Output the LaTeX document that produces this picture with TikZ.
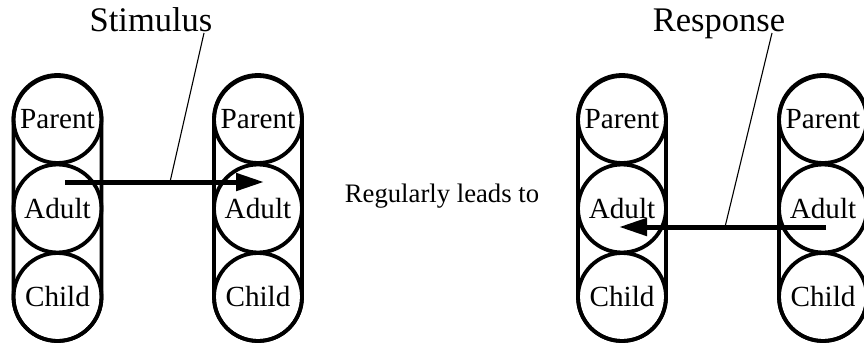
\documentclass[tikz,border=0pt]{standalone}
\usepackage{fontspec}
\setmainfont{Liberation Serif}
\usetikzlibrary{arrows.meta}
\begin{document}
\begin{tikzpicture}[x=1pt,y=-1pt,
  ego/.style={circle,draw,line width=3.8pt,minimum size=88pt,inner sep=0pt,font=\fontsize{29.2}{32}\selectfont},
  stackbox/.style={draw,line width=3.8pt,rounded corners=44pt},
  caption/.style={font=\fontsize{34.5}{38}\selectfont,anchor=base,inner sep=0pt},
  midtext/.style={font=\fontsize{26.7}{30}\selectfont,anchor=base,inner sep=0pt},
  bigarrow/.style={line width=5pt,-{Triangle[length=28pt,width=17pt]}},
  leader/.style={line width=1.1pt}]
\useasboundingbox (0,0) rectangle (864,345);
% stacks
\foreach \x/\n in {57.5/1,258/2,622/3,823/4}{
  \draw[stackbox] (\x-44,76) rectangle (\x+44,341);
  \node[ego] (p\n) at (\x,119) {Parent};
  \node[ego] (a\n) at (\x,208.5) {Adult};
  \node[ego] (c\n) at (\x,297) {Child};
}
% stimulus
\node[caption] (stim) at (151,32) {Stimulus};
\coordinate (s0) at (65,182);
\coordinate (s1) at (264,182);
\coordinate (sm) at (170,182);
\coordinate (st) at (204,33);
\draw[bigarrow] (s0) -- (s1);
\draw[leader] (st) -- (sm);
% middle
\node[midtext] (lead) at (442,202) {Regularly leads to};
% response
\node[caption] (resp) at (719,32) {Response};
\coordinate (r0) at (826,227);
\coordinate (r1) at (619,227);
\coordinate (rm) at (725,227);
\coordinate (rt) at (772,33);
\draw[bigarrow] (r0) -- (r1);
\draw[leader] (rt) -- (rm);
\end{tikzpicture}
\end{document}
